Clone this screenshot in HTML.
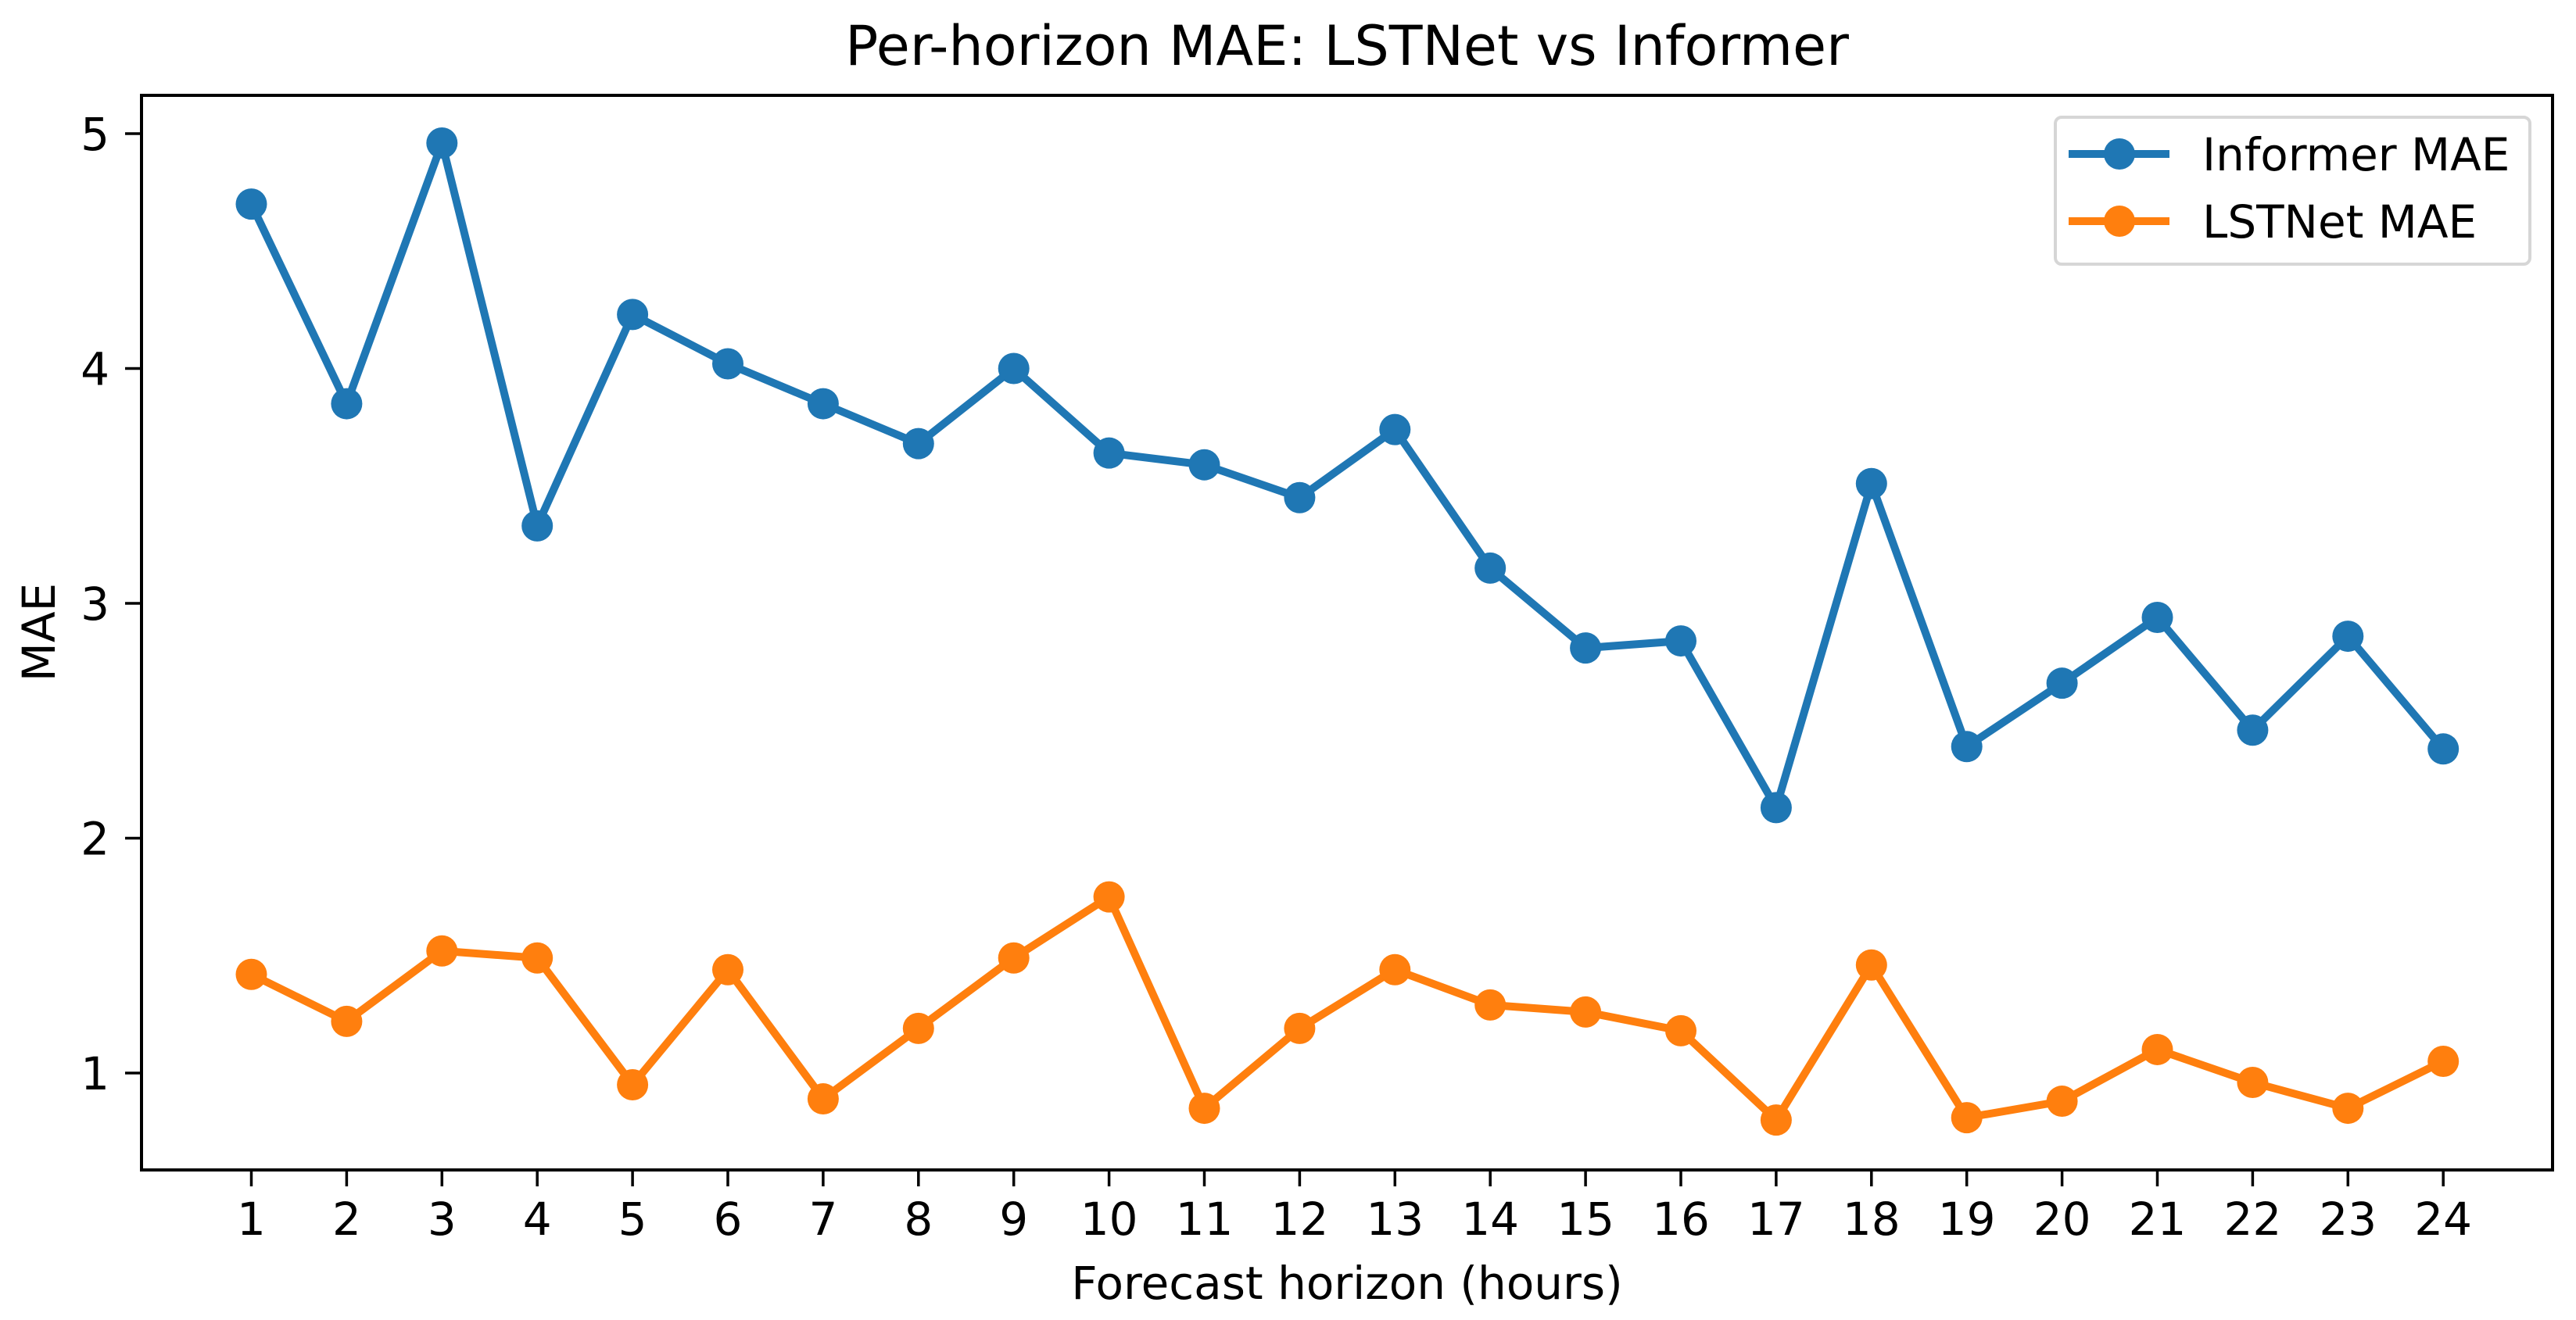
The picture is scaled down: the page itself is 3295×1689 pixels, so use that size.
<!DOCTYPE html>
<html><head><meta charset="utf-8"><style>
html,body{margin:0;padding:0;background:#fff;}
svg{display:block;font-family:"DejaVu Sans","Liberation Sans",sans-serif;}
</style></head><body>
<svg id="chart" width="3295" height="1689" viewBox="0 0 3295 1689" xmlns="http://www.w3.org/2000/svg">
<rect width="3295" height="1689" fill="#fff"/>
<text x="1723" y="83" font-size="70" text-anchor="middle">Per-horizon MAE: LSTNet vs Informer</text>
<text x="1723" y="1662" font-size="58" text-anchor="middle">Forecast horizon (hours)</text>
<text transform="translate(70,809) rotate(-90)" font-size="58" text-anchor="middle">MAE</text>
<g id="ticks"></g>
<g id="series"></g>
<rect x="181" y="122" width="3084" height="1375" fill="none" stroke="#000" stroke-width="4"/>
<g>
<rect x="2629" y="150" width="607" height="188" rx="8" fill="#fff" fill-opacity="0.8" stroke="#d6d6d6" stroke-width="4"/>
<line x1="2646" y1="197" x2="2775" y2="197" stroke="#1f77b4" stroke-width="10"/>
<circle cx="2711" cy="197" r="20" fill="#1f77b4"/>
<text x="2817" y="218" font-size="58">Informer MAE</text>
<line x1="2646" y1="283" x2="2775" y2="283" stroke="#ff7f0e" stroke-width="10"/>
<circle cx="2711" cy="283" r="20" fill="#ff7f0e"/>
<text x="2817" y="304" font-size="58">LSTNet MAE</text>
</g>
</svg>
<script>
const horizons = [1,2,3,4,5,6,7,8,9,10,11,12,13,14,15,16,17,18,19,20,21,22,23,24];
const informerMAE = [4.70,3.85,4.96,3.33,4.23,4.02,3.85,3.68,4.0,3.64,3.59,3.45,3.74,3.15,2.81,2.84,2.13,3.51,2.39,2.66,2.94,2.46,2.86,2.38];
const lstnetMAE = [1.42,1.22,1.52,1.49,0.95,1.44,0.89,1.19,1.49,1.75,0.85,1.19,1.44,1.29,1.26,1.18,0.80,1.46,0.81,0.88,1.10,0.96,0.85,1.05];
const yTicks = [1,2,3,4,5];

const NS = "http://www.w3.org/2000/svg";
function xPos(h){ return 321.5 + (h-1)*121.9; }
function yPos(v){ return 171 + (5-v)*300.5; }
function mk(tag, attrs, parent){
  const e = document.createElementNS(NS, tag);
  for (const k in attrs) e.setAttribute(k, attrs[k]);
  parent.appendChild(e); return e;
}
const tg = document.getElementById('ticks');
horizons.forEach(h => {
  const l = mk('line', {x1:xPos(h), x2:xPos(h), y1:1497, y2:1518, stroke:'#000', 'stroke-width':3.5}, tg);
  
  
  const t = mk('text', {x:xPos(h), y:1580, 'font-size':58, 'text-anchor':'middle'}, tg);
  t.textContent = h;
  
  
});
yTicks.forEach(v => {
  const l = mk('line', {x1:160, x2:181, y1:yPos(v), y2:yPos(v), stroke:'#000', 'stroke-width':3.5}, tg);
  
  
  const t = mk('text', {x:140, y:yPos(v)+21, 'font-size':58, 'text-anchor':'end'}, tg);
  t.textContent = v;
  
  
});
const sg = document.getElementById('series');
function drawSeries(vals, color, name){
  const pts = vals.map((v,i) => xPos(horizons[i]) + ',' + yPos(v)).join(' ');
  const pl = mk('polyline', {points:pts, fill:'none', stroke:color, 'stroke-width':10, 'stroke-linejoin':'round'}, sg);
  
  
  vals.forEach((v,i) => {
    const c = mk('circle', {cx:xPos(horizons[i]), cy:yPos(v), r:20, fill:color}, sg);
    
    
  });
}
drawSeries(informerMAE, '#1f77b4', 'informer');
drawSeries(lstnetMAE, '#ff7f0e', 'lstnet');
</script>
</body></html>
